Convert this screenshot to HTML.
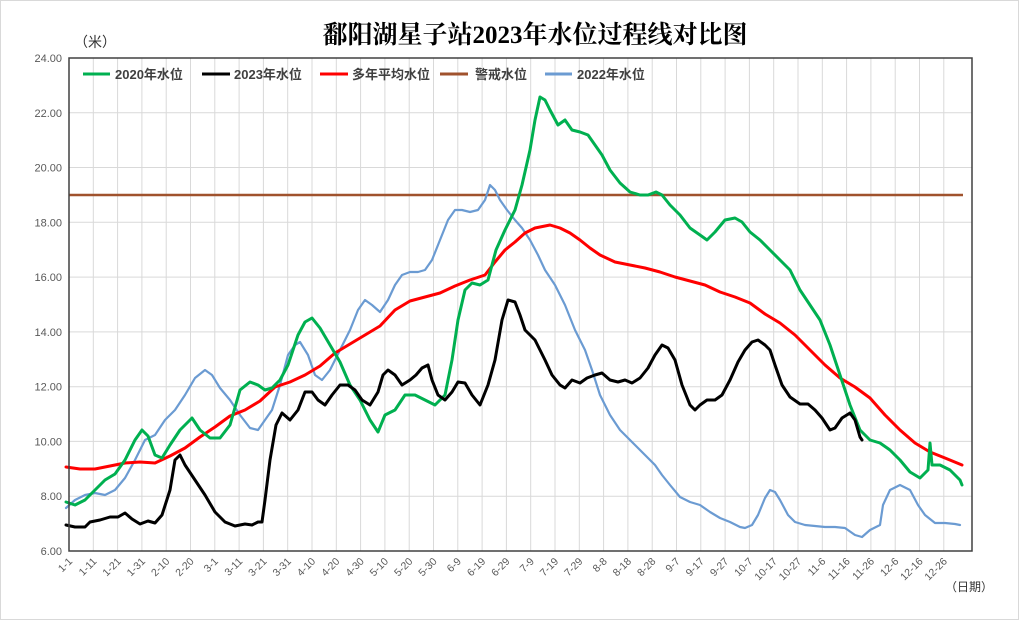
<!DOCTYPE html>
<html><head><meta charset="utf-8"><style>
body{margin:0;background:#fff}
svg{display:block}
text{font-family:"Liberation Sans","Noto Sans CJK SC",sans-serif}
</style></head><body>
<svg width="1019" height="620" viewBox="0 0 1019 620" xmlns="http://www.w3.org/2000/svg">
<rect x="0.5" y="0.5" width="1018" height="619" fill="#fff" stroke="#d9d9d9"/>
<text x="535" y="43" text-anchor="middle" font-size="25" font-weight="bold" style='font-family:"Liberation Serif","Noto Serif CJK SC",serif'>鄱阳湖星子站2023年水位过程线对比图</text>
<text x="74" y="47" font-size="14" fill="#333" style='font-family:"Noto Sans CJK SC",sans-serif'>（米）</text>
<g stroke="#d9d9d9" stroke-width="1">
<line x1="69" x2="972" y1="496.2" y2="496.2"/><line x1="69" x2="972" y1="441.4" y2="441.4"/><line x1="69" x2="972" y1="386.7" y2="386.7"/><line x1="69" x2="972" y1="331.9" y2="331.9"/><line x1="69" x2="972" y1="277.1" y2="277.1"/><line x1="69" x2="972" y1="222.3" y2="222.3"/><line x1="69" x2="972" y1="167.5" y2="167.5"/><line x1="69" x2="972" y1="112.8" y2="112.8"/>
<line x1="93.3" x2="93.3" y1="58" y2="551"/><line x1="117.6" x2="117.6" y1="58" y2="551"/><line x1="141.9" x2="141.9" y1="58" y2="551"/><line x1="166.2" x2="166.2" y1="58" y2="551"/><line x1="190.5" x2="190.5" y1="58" y2="551"/><line x1="214.8" x2="214.8" y1="58" y2="551"/><line x1="239.1" x2="239.1" y1="58" y2="551"/><line x1="263.4" x2="263.4" y1="58" y2="551"/><line x1="287.7" x2="287.7" y1="58" y2="551"/><line x1="312" x2="312" y1="58" y2="551"/><line x1="336.3" x2="336.3" y1="58" y2="551"/><line x1="360.6" x2="360.6" y1="58" y2="551"/><line x1="384.9" x2="384.9" y1="58" y2="551"/><line x1="409.2" x2="409.2" y1="58" y2="551"/><line x1="433.5" x2="433.5" y1="58" y2="551"/><line x1="457.8" x2="457.8" y1="58" y2="551"/><line x1="482.1" x2="482.1" y1="58" y2="551"/><line x1="506.4" x2="506.4" y1="58" y2="551"/><line x1="530.7" x2="530.7" y1="58" y2="551"/><line x1="555" x2="555" y1="58" y2="551"/><line x1="579.3" x2="579.3" y1="58" y2="551"/><line x1="603.6" x2="603.6" y1="58" y2="551"/><line x1="627.9" x2="627.9" y1="58" y2="551"/><line x1="652.2" x2="652.2" y1="58" y2="551"/><line x1="676.5" x2="676.5" y1="58" y2="551"/><line x1="700.8" x2="700.8" y1="58" y2="551"/><line x1="725.1" x2="725.1" y1="58" y2="551"/><line x1="749.4" x2="749.4" y1="58" y2="551"/><line x1="773.7" x2="773.7" y1="58" y2="551"/><line x1="798" x2="798" y1="58" y2="551"/><line x1="822.3" x2="822.3" y1="58" y2="551"/><line x1="846.6" x2="846.6" y1="58" y2="551"/><line x1="870.9" x2="870.9" y1="58" y2="551"/><line x1="895.2" x2="895.2" y1="58" y2="551"/><line x1="919.5" x2="919.5" y1="58" y2="551"/><line x1="943.8" x2="943.8" y1="58" y2="551"/>
</g>
<g font-size="11" fill="#595959" text-anchor="end">
<text x="62" y="555">6.00</text><text x="62" y="500.2">8.00</text><text x="62" y="445.4">10.00</text><text x="62" y="390.7">12.00</text><text x="62" y="335.9">14.00</text><text x="62" y="281.1">16.00</text><text x="62" y="226.3">18.00</text><text x="62" y="171.5">20.00</text><text x="62" y="116.8">22.00</text><text x="62" y="62">24.00</text>
</g>
<g font-size="10.5" fill="#595959" text-anchor="end">
<text transform="translate(73,562) rotate(-45)">1-1</text>
<text transform="translate(97.3,562) rotate(-45)">1-11</text>
<text transform="translate(121.6,562) rotate(-45)">1-21</text>
<text transform="translate(145.9,562) rotate(-45)">1-31</text>
<text transform="translate(170.2,562) rotate(-45)">2-10</text>
<text transform="translate(194.5,562) rotate(-45)">2-20</text>
<text transform="translate(218.8,562) rotate(-45)">3-1</text>
<text transform="translate(243.1,562) rotate(-45)">3-11</text>
<text transform="translate(267.4,562) rotate(-45)">3-21</text>
<text transform="translate(291.7,562) rotate(-45)">3-31</text>
<text transform="translate(316,562) rotate(-45)">4-10</text>
<text transform="translate(340.3,562) rotate(-45)">4-20</text>
<text transform="translate(364.6,562) rotate(-45)">4-30</text>
<text transform="translate(388.9,562) rotate(-45)">5-10</text>
<text transform="translate(413.2,562) rotate(-45)">5-20</text>
<text transform="translate(437.5,562) rotate(-45)">5-30</text>
<text transform="translate(461.8,562) rotate(-45)">6-9</text>
<text transform="translate(486.1,562) rotate(-45)">6-19</text>
<text transform="translate(510.4,562) rotate(-45)">6-29</text>
<text transform="translate(534.7,562) rotate(-45)">7-9</text>
<text transform="translate(559,562) rotate(-45)">7-19</text>
<text transform="translate(583.3,562) rotate(-45)">7-29</text>
<text transform="translate(607.6,562) rotate(-45)">8-8</text>
<text transform="translate(631.9,562) rotate(-45)">8-18</text>
<text transform="translate(656.2,562) rotate(-45)">8-28</text>
<text transform="translate(680.5,562) rotate(-45)">9-7</text>
<text transform="translate(704.8,562) rotate(-45)">9-17</text>
<text transform="translate(729.1,562) rotate(-45)">9-27</text>
<text transform="translate(753.4,562) rotate(-45)">10-7</text>
<text transform="translate(777.7,562) rotate(-45)">10-17</text>
<text transform="translate(802,562) rotate(-45)">10-27</text>
<text transform="translate(826.3,562) rotate(-45)">11-6</text>
<text transform="translate(850.6,562) rotate(-45)">11-16</text>
<text transform="translate(874.9,562) rotate(-45)">11-26</text>
<text transform="translate(899.2,562) rotate(-45)">12-6</text>
<text transform="translate(923.5,562) rotate(-45)">12-16</text>
<text transform="translate(947.8,562) rotate(-45)">12-26</text>
</g>
<line x1="69" y1="195" x2="963" y2="195" stroke="#a0522d" stroke-width="2.5"/>
<g fill="none" stroke-width="3" stroke-linejoin="round" stroke-linecap="round">
<polyline stroke="#6b9bd2" stroke-width="2.2" points="66,508 75,500 85,495 95,493 105,495 115,490 125,478 135,460 145,440 155,435 165,420 175,410 185,395 195,378 205,370 212,375 220,388 230,400 240,415 250,428 258,430 265,420 272,410 280,385 288,355 295,345 300,342 308,355 315,375 322,380 330,370 340,350 350,330 358,310 365,300 372,305 380,312 388,300 395,285 402,275 410,272 418,272 425,270 432,260 440,240 448,220 455,210 462,210 470,212 478,210 485,200 490,185 495,190 500,200 507,210 515,220 522,228 530,240 538,255 545,270 555,285 565,305 575,330 585,350 592,370 600,395 610,415 620,430 630,440 640,450 648,458 655,465 662,475 670,485 680,497 690,502 700,505 710,512 720,518 730,522 740,527 745,528 752,525 758,515 765,498 770,490 775,492 780,500 788,515 795,522 805,525 815,526 825,527 835,527 845,528 855,535 862,537 870,530 880,525 883,505 890,490 900,485 910,490 918,505 925,515 935,523 945,523 955,524 960,525"/>
<polyline stroke="#ff0000" points="66,467 80,469 95,469 110,466 125,463 140,462 155,463 170,456 185,448 200,437 215,427 230,416 245,410 260,401 275,387 290,382 305,375 320,366 335,353 350,344 365,335 380,326 395,310 410,301 425,297 440,293 455,286 470,280 485,275 495,262 505,250 515,242 525,233 535,228 550,225 560,228 570,233 580,240 590,248 600,255 615,262 630,265 645,268 660,272 675,277 690,281 705,285 720,292 735,297 750,303 765,314 780,323 795,335 810,350 825,365 840,378 855,387 870,398 885,415 900,430 915,443 930,452 945,458 962,465"/>
<polyline stroke="#00b050" points="66,502 75,505 85,500 95,490 105,480 115,474 125,460 135,440 142,430 148,436 155,455 162,458 170,445 180,430 192,418 200,430 210,438 220,438 230,425 240,390 250,382 258,385 265,390 272,388 280,380 288,365 298,335 305,322 312,318 320,328 330,345 340,362 350,385 360,400 370,420 378,432 385,415 395,410 405,395 415,395 425,400 435,405 445,395 452,360 458,320 465,290 472,283 480,285 488,280 496,250 505,230 515,210 522,185 530,150 535,120 540,97 545,100 550,110 558,125 565,120 572,130 580,132 588,135 595,145 602,155 610,170 620,183 630,192 640,195 648,195 656,192 662,195 670,205 680,215 690,228 700,235 707,240 715,232 725,220 735,218 742,222 750,232 760,240 770,250 780,260 790,270 800,290 810,305 820,320 830,345 840,375 850,405 860,430 870,440 880,443 890,450 900,460 910,472 920,478 928,470 930,443 932,465 940,465 950,470 960,480 962,485"/>
<polyline stroke="#000" points="66,525 75,527 85,527 90,522 100,520 110,517 118,517 125,513 132,519 140,524 148,521 155,523 162,515 170,490 175,460 180,455 185,465 195,480 205,495 215,512 225,522 235,526 245,524 252,525 258,522 262,522 265,500 270,460 276,425 282,413 290,420 298,410 305,392 312,392 318,400 325,405 332,395 340,385 348,385 355,390 362,400 370,405 378,392 383,375 388,370 395,375 402,385 410,380 416,375 422,368 428,365 432,380 438,395 445,400 452,392 458,382 465,383 472,395 480,405 488,385 495,360 502,320 508,300 515,302 520,315 525,330 530,335 535,340 540,350 545,360 552,375 560,385 565,388 572,380 580,383 587,378 595,375 602,373 610,380 618,382 625,380 632,383 640,378 648,368 655,355 662,345 668,348 675,360 682,385 690,405 695,410 700,405 707,400 715,400 722,395 730,380 738,362 745,350 752,342 758,340 765,345 770,350 775,365 782,385 790,397 800,404 808,404 815,410 822,418 830,430 835,428 842,418 850,413 855,420 860,437 862,440"/>
</g>
<rect x="69" y="58" width="903" height="493" fill="none" stroke="#404040" stroke-width="1.5"/>
<g font-size="13" font-weight="bold" fill="#404040">
<line x1="83" y1="74" x2="110" y2="74" stroke="#00b050" stroke-width="3"/><text x="115" y="79">2020年水位</text>
<line x1="202" y1="74" x2="230" y2="74" stroke="#000" stroke-width="3"/><text x="234" y="79">2023年水位</text>
<line x1="320" y1="74" x2="348" y2="74" stroke="#ff0000" stroke-width="3"/><text x="352" y="79">多年平均水位</text>
<line x1="440" y1="74" x2="468" y2="74" stroke="#a0522d" stroke-width="3"/><text x="475" y="79">警戒水位</text>
<line x1="545" y1="74" x2="572" y2="74" stroke="#6b9bd2" stroke-width="3"/><text x="577" y="79">2022年水位</text>
</g>
<text x="945" y="591" font-size="12" fill="#333">（日期）</text>
</svg>
</body></html>
